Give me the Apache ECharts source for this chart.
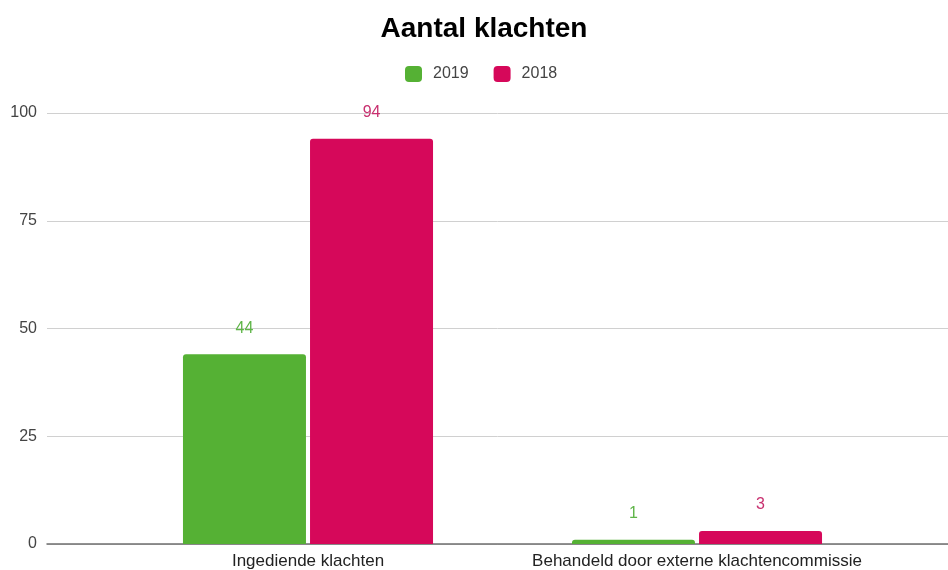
<!DOCTYPE html>
<html>
<head>
<meta charset="utf-8">
<script src="https://cdn.jsdelivr.net/npm/echarts@6/dist/echarts.min.js"></script>
<style>html,body{margin:0;padding:0;background:#fff}#c{width:948px;height:570px}</style>
</head>
<body>
<div id="c"></div>
<script>
const categories = ['Ingediende klachten', 'Behandeld door externe klachtencommissie'];
const seriesNames = ['2019', '2018'];
const values2019 = [44, 1];
const values2018 = [94, 3];
const yTicks = [0, 25, 50, 75, 100];

const chart = echarts.init(document.getElementById('c'), null, {renderer: 'canvas'});
const font = 'Liberation Sans, Arial, sans-serif';
const green = '#55b134', pink = '#d6085a';
const option = {
  animation: false,
  backgroundColor: '#fff',
  title: {
    text: 'Aantal klachten', left: 479, textAlign: 'center', top: 10,
    textStyle: {fontFamily: font, fontSize: 28, fontWeight: 'bold', color: '#000'}
  },
  legend: {
    top: 61, left: 400, icon: 'roundRect', itemWidth: 17, itemHeight: 16, itemGap: 25,
    textStyle: {fontFamily: font, fontSize: 16, color: '#444', padding: [0, 0, 0, 6]},
    data: seriesNames
  },
  grid: [
    {left: 47, width: 920, top: 113, bottom: 26},
    {left: 113.5, width: 778, top: 113, bottom: 26}
  ],
  xAxis: [
    {gridIndex: 0, type: 'value', min: 0, max: 1, axisLabel: {show: false}, splitLine: {show: false},
     axisTick: {show: false}, axisLine: {show: true, lineStyle: {color: '#6f6f6f', width: 1.5}}},
    {gridIndex: 1, type: 'category', data: categories, axisLine: {show: false}, axisTick: {show: false},
     axisLabel: {interval: 0, hideOverlap: false, fontFamily: font, fontSize: 17, color: '#222', margin: 9}}
  ],
  yAxis: [
    {gridIndex: 0, type: 'value', min: yTicks[0], max: yTicks[yTicks.length - 1], interval: 25,
     axisLine: {show: false}, axisTick: {show: false},
     axisLabel: {fontFamily: font, fontSize: 16, color: '#444', margin: 10},
     splitLine: {lineStyle: {color: '#d0d0d0', width: 1}}},
    {gridIndex: 1, type: 'value', min: 0, max: 100, show: false}
  ],
  series: [
    {name: seriesNames[0], type: 'bar', xAxisIndex: 1, yAxisIndex: 1, data: values2019,
     barWidth: 123, barGap: '3.3%', itemStyle: {color: green, borderRadius: [3, 3, 0, 0]},
     label: {show: true, position: 'top', distance: 18, fontFamily: font, fontSize: 16, color: '#5fb548'}},
    {name: seriesNames[1], type: 'bar', xAxisIndex: 1, yAxisIndex: 1, data: values2018,
     barWidth: 123, itemStyle: {color: pink, borderRadius: [3, 3, 0, 0]},
     label: {show: true, position: 'top', distance: 18, fontFamily: font, fontSize: 16, color: '#c8306f'}}
  ]
};
chart.setOption(option);
</script>
</body>
</html>
